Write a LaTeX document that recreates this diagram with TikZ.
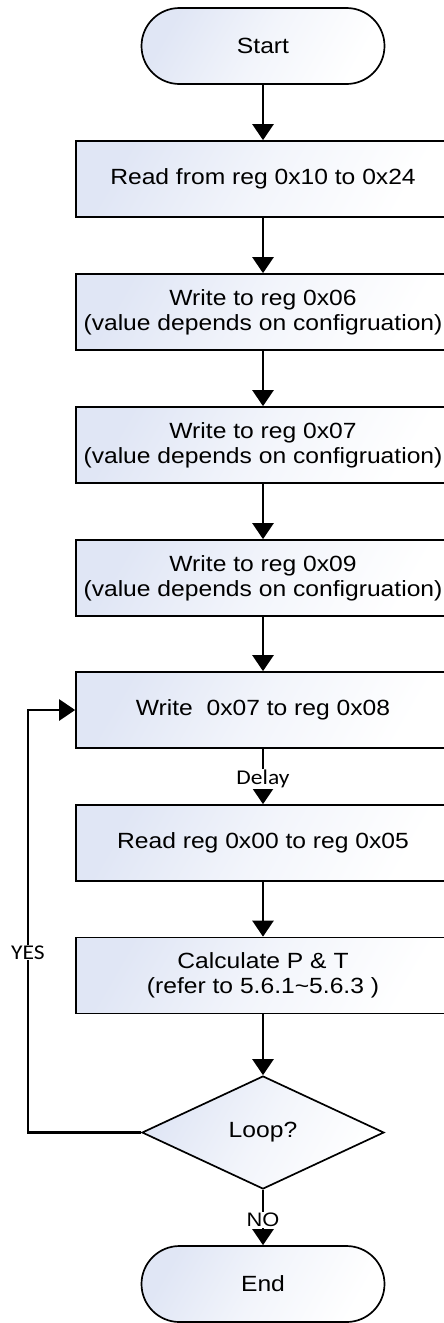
\documentclass[tikz,border=0pt]{standalone}
\usepackage{fontspec}
\setmainfont{Liberation Sans}[FakeStretch=1.12]
\newfontfamily\lblfont{Carlito}[FakeStretch=1.12]
\usetikzlibrary{arrows.meta,shapes.geometric}
\definecolor{boxblue}{RGB}{224,230,245}
\tikzset{
  shade/.style={top color=boxblue, bottom color=white, middle color=white!60!boxblue, shading angle=60},
  procbox/.style={draw, line width=1.7pt, shade, minimum width=374pt, minimum height=76pt, inner sep=0pt, align=center, font=\fontsize{22}{25}\selectfont},
  termbox/.style={draw, line width=1.7pt, shade, rounded corners=38pt, minimum width=243pt, minimum height=76pt, inner sep=0pt, font=\fontsize{22}{25}\selectfont},
  decbox/.style={diamond, draw, line width=1.7pt, shade, minimum width=242pt, minimum height=113pt, inner sep=0pt, font=\fontsize{22}{25}\selectfont},
  conn/.style={line width=2.5pt, line join=miter, -{Triangle[width=21pt,length=16pt]}},
  lbl/.style={fill=white, inner sep=1pt, font=\lblfont\fontsize{21}{22}\selectfont},
  lblno/.style={fill=white, inner sep=1pt, font=\fontsize{19.5}{21}\selectfont},
}
\begin{document}
\begin{tikzpicture}[x=1pt,y=-1pt]
\useasboundingbox (0,0) rectangle (444,1323);
\node[termbox] (start) at (263,46) {Start};
\node[procbox] (b1) at (263,179) {Read from reg 0x10 to 0x24};
\node[procbox] (b2) at (263,312) {Write to reg 0x06\\(value depends on configruation)};
\node[procbox] (b3) at (263,445) {Write to reg 0x07\\(value depends on configruation)};
\node[procbox] (b4) at (263,578) {Write to reg 0x09\\(value depends on configruation)};
\node[procbox] (b5) at (263,710) {Write\ \ 0x07 to reg 0x08};
\node[procbox] (b6) at (263,843) {Read reg 0x00 to reg 0x05};
\node[procbox] (b7) at (263,975.5) {Calculate P \& T\\(refer to 5.6.1\textasciitilde 5.6.3 )};
\node[decbox] (dec) at (263,1132.5) {Loop?};
\node[termbox] (end) at (263,1284) {End};
\coordinate (lx) at (28,1132.5);
\draw[conn] (start) -- (b1);
\draw[conn] (b1) -- (b2);
\draw[conn] (b2) -- (b3);
\draw[conn] (b3) -- (b4);
\draw[conn] (b4) -- (b5);
\draw[conn] (b5) -- node[lbl, pos=0.55] (delay) {Delay} (b6);
\draw[conn] (b6) -- (b7);
\draw[conn] (b7) -- (dec);
\draw[conn] (dec) -- node[lblno, pos=0.55] (no) {NO} (end);
\draw[conn] (dec.west) -- (lx) |- node[lbl, pos=0.213] (yes) {YES} (b5.west);
\end{tikzpicture}
\end{document}
